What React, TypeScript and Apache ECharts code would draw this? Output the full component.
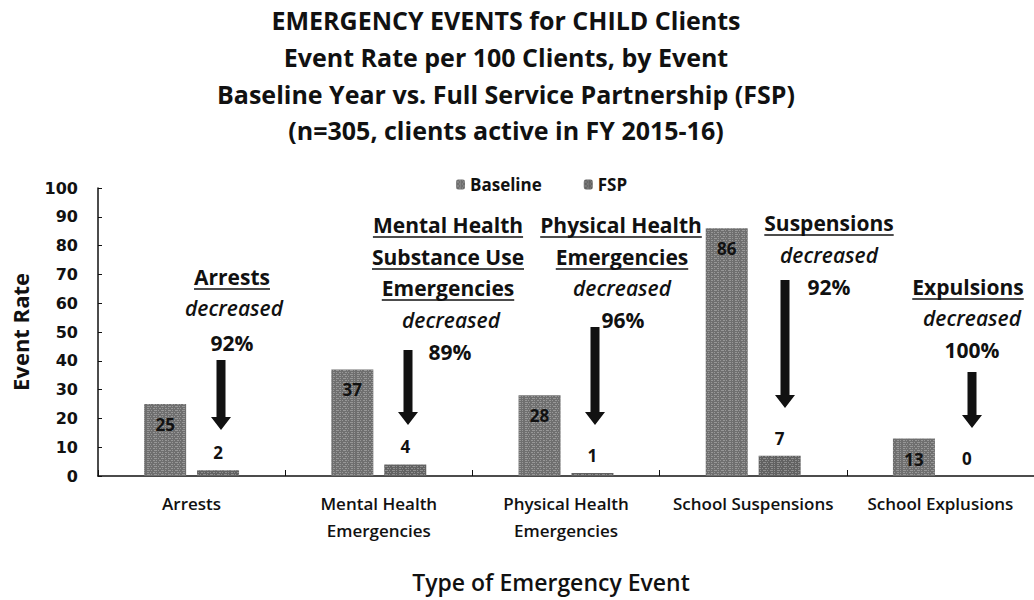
import { useEffect, useRef } from 'react';
import * as echarts from 'echarts';

const categories = [
  'Arrests',
  'Mental Health\nEmergencies',
  'Physical Health\nEmergencies',
  'School Suspensions',
  'School Explusions',
];
const baselineValues = [25, 37, 28, 86, 13];
const fspValues = [2, 4, 1, 7, 0];
const seriesNames = ['Baseline', 'FSP'];
const titleLines = [
  'EMERGENCY EVENTS for CHILD Clients',
  'Event Rate per 100 Clients, by Event',
  'Baseline Year vs. Full Service Partnership (FSP)',
  '(n=305, clients active in FY 2015-16)',
];
const yAxisName = 'Event Rate';
const xAxisName = 'Type of Emergency Event';

// annotation texts: [text, kind] where kind u = underlined, i = italic, n = normal
const annotationTexts: [string, string][][] = [
  [['Arrests', 'u'], ['decreased', 'i'], ['92%', 'n']],
  [['Mental Health', 'u'], ['Substance Use', 'u'], ['Emergencies', 'u'], ['decreased', 'i'], ['89%', 'n']],
  [['Physical Health', 'u'], ['Emergencies', 'u'], ['decreased', 'i'], ['96%', 'n']],
  [['Suspensions', 'u'], ['decreased', 'i'], ['92%', 'n']],
  [['Expulsions', 'u'], ['decreased', 'i'], ['100%', 'n']],
];

// layout of annotations (pixels)
const annLayout = [
  { cx: [232, 234, 232], ys: [277, 308, 343], arrow: [221, 360, 430] },
  { cx: [448, 448, 448, 451, 450], ys: [225, 257, 288, 320, 352], arrow: [408, 350, 425] },
  { cx: [621, 622, 622, 623], ys: [225, 257, 288, 320], arrow: [595, 327, 425] },
  { cx: [829, 829, 829], ys: [223, 255, 287], arrow: [785, 280, 408] },
  { cx: [968, 972, 972], ys: [287, 318, 350], arrow: [972, 372, 428] },
];

const FONT = '"Open Sans", "Noto Sans", sans-serif';
const INK = '#111111';

function measure(text: string, font: string): number {
  const c = document.createElement('canvas');
  const ctx = c.getContext('2d');
  if (!ctx) return text.length * 10;
  ctx.font = font;
  return ctx.measureText(text).width;
}

function buildGraphics() {
  const els: any[] = [];
  annotationTexts.forEach((lines, gi) => {
    const lay = annLayout[gi];
    lines.forEach(([text, kind], li) => {
      const font =
        kind === 'i' ? `italic 600 21px ${FONT}` : `bold 21px ${FONT}`;
      const x = lay.cx[li];
      const y = lay.ys[li];
      els.push({
        type: 'text',
        x,
        y,
        style: {
          text,
          font,
          fill: INK,
          textAlign: 'center',
          textVerticalAlign: 'middle',
        },
      });
      if (kind === 'u') {
        const w = measure(text, font);
        els.push({
          type: 'line',
          shape: { x1: x - w / 2, y1: y + 12, x2: x + w / 2, y2: y + 12 },
          style: { stroke: INK, lineWidth: 1.6 },
        });
      }
    });
    const [ax, y0, y1] = lay.arrow;
    const sw = 4.5;
    const hw = 10;
    const hh = 13;
    els.push({
      type: 'polygon',
      shape: {
        points: [
          [ax - sw, y0],
          [ax + sw, y0],
          [ax + sw, y1 - hh],
          [ax + hw, y1 - hh],
          [ax, y1],
          [ax - hw, y1 - hh],
          [ax - sw, y1 - hh],
        ],
      },
      style: { fill: INK },
    });
  });
  els.push({
    type: 'text',
    x: 551,
    y: 582,
    style: {
      text: xAxisName,
      font: `600 23px ${FONT}`,
      fill: INK,
      textAlign: 'center',
      textVerticalAlign: 'middle',
    },
  });
  return els;
}

const decalStyle = {
  symbol: 'rect',
  symbolSize: 1,
  color: 'rgba(255,255,255,0.28)',
  dashArrayX: [[3, 1, 1, 2], [1, 2, 2, 1]],
  dashArrayY: [1, 1],
  rotation: 0,
};

export default function App() {
  const ref = useRef<HTMLDivElement>(null);
  useEffect(() => {
    if (!ref.current) return;
    const chart = echarts.init(ref.current, null, { renderer: 'svg' });
    chart.setOption({
      animation: false,
      backgroundColor: '#ffffff',
      title: {
        text: titleLines.join('\n'),
        left: 501,
        top: -3,
        textAlign: 'center',
        textStyle: {
          fontFamily: FONT,
          fontWeight: 'bold',
          fontSize: 25,
          lineHeight: 36.7,
          color: INK,
        },
      },
      legend: {
        data: seriesNames,
        top: 171,
        left: 451,
        itemWidth: 9,
        itemHeight: 10,
        itemGap: 42,
        textStyle: { fontFamily: FONT, fontWeight: 'bold', fontSize: 17, color: INK },
      },
      grid: { left: 98, right: 0, top: 188, bottom: 124, containLabel: false },
      xAxis: {
        type: 'category',
        data: categories,
        axisLine: { lineStyle: { color: INK, width: 1.5 } },
        axisTick: { show: true, inside: true, length: 6, lineStyle: { color: INK } },
        axisLabel: {
          fontFamily: FONT,
          fontWeight: 600,
          fontSize: 17,
          lineHeight: 27,
          color: INK,
          margin: 14,
          interval: 0,
        },
      },
      yAxis: {
        type: 'value',
        min: 0,
        max: 100,
        interval: 10,
        name: yAxisName,
        nameLocation: 'middle',
        nameRotate: 90,
        nameGap: 67,
        nameTextStyle: { fontFamily: FONT, fontWeight: 'bold', fontSize: 22, color: INK },
        axisLine: { show: true, lineStyle: { color: INK, width: 1.5 } },
        axisTick: { show: true, inside: true, length: 4, lineStyle: { color: INK } },
        splitLine: { show: false },
        axisLabel: {
          fontFamily: '"DejaVu Sans", sans-serif',
          fontWeight: 'bold',
          fontSize: 16,
          color: INK,
          margin: 20,
        },
      },
      series: [
        {
          name: seriesNames[0],
          type: 'bar',
          data: baselineValues,
          barWidth: 42,
          barGap: '26%',
          itemStyle: { color: '#6f6f6f', decal: decalStyle },
          label: {
            show: true,
            position: 'insideTop',
            distance: 12,
            fontFamily: FONT,
            fontWeight: 'bold',
            fontSize: 17,
            color: INK,
          },
        },
        {
          name: seriesNames[1],
          type: 'bar',
          data: fspValues,
          barWidth: 42,
          itemStyle: { color: '#626262', decal: decalStyle },
          label: {
            show: true,
            position: 'top',
            distance: 9,
            fontFamily: FONT,
            fontWeight: 'bold',
            fontSize: 17,
            color: INK,
          },
        },
      ],
      graphic: { elements: buildGraphics() },
    });
    return () => chart.dispose();
  }, []);
  return (
    <div
      ref={ref}
      style={{ position: 'fixed', left: 0, top: 0, width: 1034, height: 600 }}
    />
  );
}
